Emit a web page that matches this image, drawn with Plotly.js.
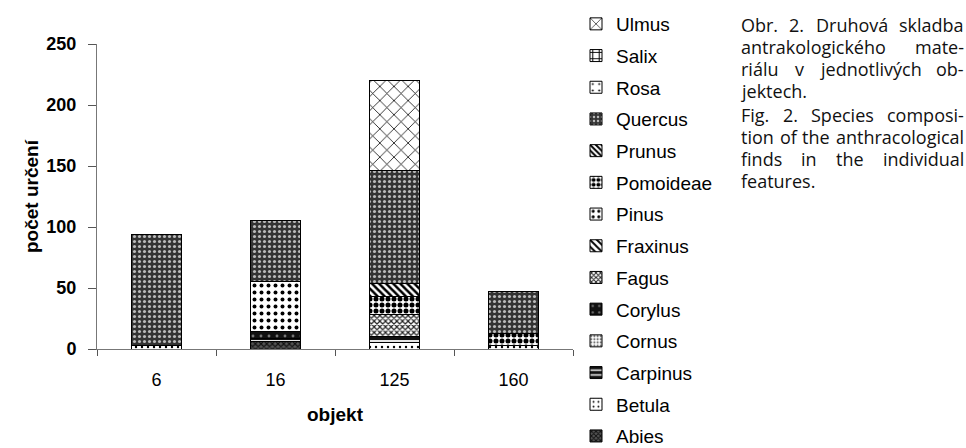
<!DOCTYPE html>
<html><head><meta charset="utf-8">
<script src="https://cdn.plot.ly/plotly-3.0.1.min.js"></script>
<style>html,body{margin:0;padding:0;background:#fff}#chart{width:966px;height:448px}</style>
</head><body><div id="chart"></div>
<script>
const categories = ['6', '16', '125', '160'];
const species = ['Abies','Betula','Carpinus','Cornus','Corylus','Fagus','Fraxinus','Pinus','Pomoideae','Prunus','Quercus','Rosa','Salix','Ulmus'];
const Abies     = [0, 6, 0, 0];
const Betula    = [3, 0, 5, 3];
const Carpinus  = [0, 3, 5, 0];
const Cornus    = [0, 0, 0, 0];
const Corylus   = [0, 5, 0, 0];
const Fagus     = [0, 0, 18, 0];
const Fraxinus  = [0, 0, 0, 0];
const Pinus     = [0, 41, 0, 0];
const Pomoideae = [0, 0, 15, 10];
const Prunus    = [0, 0, 11, 0];
const Quercus   = [91, 50, 92, 34];
const Rosa      = [0, 0, 0, 0];
const Salix     = [0, 0, 0, 0];
const Ulmus     = [0, 0, 74, 0];
const values = {Abies,Betula,Carpinus,Cornus,Corylus,Fagus,Fraxinus,Pinus,Pomoideae,Prunus,Quercus,Rosa,Salix,Ulmus};

const patterns = {
  Abies:     {shape:'x', bgcolor:'#555', fgcolor:'#111', size:4, solidity:0.5},
  Betula:    {shape:'.', bgcolor:'#fff', fgcolor:'#000', size:6, solidity:0.12},
  Carpinus:  {shape:'-', bgcolor:'#111', fgcolor:'#fff', size:6, solidity:0.3},
  Cornus:    {shape:'.', bgcolor:'#fff', fgcolor:'#777', size:4, solidity:0.4},
  Corylus:   {shape:'.', bgcolor:'#111', fgcolor:'#777', size:8, solidity:0.1},
  Fagus:     {shape:'x', bgcolor:'#fff', fgcolor:'#222', size:4, solidity:0.5},
  Fraxinus:  {shape:'\\', bgcolor:'#fff', fgcolor:'#000', size:6, solidity:0.4},
  Pinus:     {shape:'.', bgcolor:'#fff', fgcolor:'#000', size:7, solidity:0.25},
  Pomoideae: {shape:'.', bgcolor:'#fff', fgcolor:'#000', size:6, solidity:0.55},
  Prunus:    {shape:'\\', bgcolor:'#fff', fgcolor:'#000', size:5, solidity:0.5},
  Quercus:   {shape:'.', bgcolor:'#333', fgcolor:'#bbb', size:5, solidity:0.3},
  Rosa:      {shape:'.', bgcolor:'#fff', fgcolor:'#000', size:8, solidity:0.08},
  Salix:     {shape:'+', bgcolor:'#fff', fgcolor:'#000', size:8, solidity:0.3},
  Ulmus:     {shape:'x', bgcolor:'#fff', fgcolor:'#000', size:10, solidity:0.15}
};

const traces = species.map((s, i) => ({
  type:'bar', name:s, x:categories, y:values[s], legendgroup:s, legendrank: 100 - i,
  marker:{color:'#fff', line:{color:'#000', width:1}, pattern:Object.assign({fillmode:'replace'}, patterns[s])},
  hoverinfo:'name+y'
}));

// plot area: x 97..573, y 44..349
const W = 966, H = 448;
const L=97, R=573, T=44, B=349;
const px = v => (v - L) / (R - L);
const py = v => (B - v) / (B - T);

// caption, justified by placing each word
const captionFont = 'Open Sans';
const captionSize = 18;
const captionLines = [
  ['Obr. 2. Druhová skladba', 25, true],
  ['antrakologického mate-', 47, true],
  ['riálu v jednotlivých ob-', 69, true],
  ['jektech.', 91, false],
  ['Fig. 2. Species composi-', 115, true],
  ['tion of the anthracological', 137, true],
  ['finds in the individual', 159, true],
  ['features.', 181, false]
];
const capLeft = 740, capRight = 963;
const cv = document.createElement('canvas').getContext('2d');
cv.font = captionSize + 'px "' + captionFont + '"';
const annotations = [];
captionLines.forEach(([t, y, just]) => {
  const words = t.split(' ');
  if (!just || words.length < 2) {
    annotations.push({text:t, xref:'paper', yref:'paper', x:px(capLeft), y:py(y),
      xanchor:'left', yanchor:'middle', showarrow:false, borderpad:0,
      font:{family:captionFont, size:captionSize, color:'#111'}});
    return;
  }
  const widths = words.map(w => cv.measureText(w).width);
  const total = widths.reduce((a, b) => a + b, 0);
  const gap = (capRight - capLeft - total) / (words.length - 1);
  let xpos = capLeft;
  words.forEach((w, k) => {
    annotations.push({text:w, xref:'paper', yref:'paper', x:px(xpos), y:py(y),
      xanchor:'left', yanchor:'middle', showarrow:false, borderpad:0,
      font:{family:captionFont, size:captionSize, color:'#111'}});
    xpos += widths[k] + gap;
  });
});

const layout = {
  width:W, height:H,
  margin:{l:L, r:W-R, t:T, b:H-B, pad:0, autoexpand:false},
  paper_bgcolor:'#fff', plot_bgcolor:'#fff',
  barmode:'stack', bargap:0.58,
  font:{family:'Liberation Sans, Arial, sans-serif', color:'#000'},
  xaxis:{
    type:'category', showline:true, linecolor:'#777', linewidth:1, showgrid:false, zeroline:false,
    ticks:'outside', tickson:'boundaries', ticklen:6, tickcolor:'#555',
    tickfont:{size:18}, ticklabelstandoff:14,
    title:{text:'<b>objekt</b>', font:{size:19}, standoff:19},
    range:[-0.5, 3.5]
  },
  yaxis:{
    range:[0,250], dtick:50, showline:true, linecolor:'#777', linewidth:1, showgrid:false, zeroline:false,
    ticks:'outside', ticklen:8, tickcolor:'#555', tickfont:{size:18, weight:'bold'}, ticklabelstandoff:8,
    title:{text:'<b>počet určení</b>', font:{size:19}, standoff:2}
  },
  showlegend:true,
  legend:{xref:'container', yref:'container', x:576/W, y:1 - 5/H, xanchor:'left', yanchor:'top',
    traceorder:'grouped', tracegroupgap:4, maxheight:600,
    font:{family:'Liberation Sans, Arial, sans-serif', size:19}, itemwidth:30, bgcolor:'rgba(0,0,0,0)'},
  annotations
};
Plotly.newPlot('chart', traces, layout, {displayModeBar:false, staticPlot:true});
</script></body></html>
